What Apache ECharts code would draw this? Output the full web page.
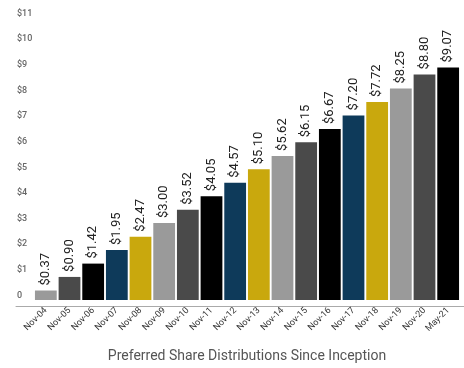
<!DOCTYPE html>
<html>
<head>
<meta charset="utf-8">
<script src="https://cdn.jsdelivr.net/npm/echarts@6/dist/echarts.min.js"></script>
<style>
  html, body { margin: 0; padding: 0; background: #fff; }
  #chart { width: 464px; height: 368px; }
</style>
</head>
<body>
<div id="chart"></div>
<script>
// periods and cumulative distributions per share
var periods = ['Nov-04', 'Nov-05', 'Nov-06', 'Nov-07', 'Nov-08', 'Nov-09', 'Nov-10', 'Nov-11', 'Nov-12',
  'Nov-13', 'Nov-14', 'Nov-15', 'Nov-16', 'Nov-17', 'Nov-18', 'Nov-19', 'Nov-20', 'May-21'];
var distributions = [0.37, 0.90, 1.42, 1.95, 2.47, 3.00, 3.52, 4.05, 4.57,
  5.10, 5.62, 6.15, 6.67, 7.20, 7.72, 8.25, 8.80, 9.07];
var palette = ['#9a9a9a', '#4a4a4a', '#000000', '#0e3a5a', '#c9a80d'];

var chart = echarts.init(document.getElementById('chart'), null, { renderer: 'canvas' });

var font = 'Roboto, "Noto Sans", sans-serif';

chart.setOption({
  animation: false,
  textStyle: { fontFamily: font },
  grid: [
    { left: 34, right: 4, top: 18, bottom: 62 },
    { left: 16, right: 0, top: 18, bottom: 62 }   // only for the long base line
  ],
  xAxis: [
    {
      type: 'category',
      data: periods,
      gridIndex: 0,
      axisLine: { show: false },
      axisTick: { show: false },
      axisLabel: {
        rotate: 45,
        interval: 0,
        fontSize: 9,
        color: '#333',
        margin: 9
      },
      name: 'Preferred Share Distributions Since Inception',
      nameLocation: 'middle',
      nameGap: 49,
      nameTextStyle: { fontSize: 14, color: '#555' }
    },
    {
      type: 'value',
      gridIndex: 1,
      min: 0, max: 1,
      axisLine: { show: true, lineStyle: { color: '#aaa', width: 1 } },
      axisTick: { show: false },
      axisLabel: { show: false },
      splitLine: { show: false }
    }
  ],
  yAxis: [
    {
      type: 'value',
      gridIndex: 0,
      min: 0,
      max: 11,
      interval: 1,
      axisLine: { show: false },
      axisTick: { show: false },
      splitLine: { show: false },
      axisLabel: {
        align: 'left',
        verticalAlign: 'bottom',
        margin: 17,
        fontSize: 9,
        fontWeight: 500,
        color: '#666',
        formatter: function (v) { return v === 0 ? '0' : '$' + v; }
      }
    },
    {
      type: 'value',
      gridIndex: 1,
      show: false
    }
  ],
  series: [{
    type: 'bar',
    xAxisIndex: 0,
    yAxisIndex: 0,
    barCategoryGap: '8%',
    data: distributions.map(function (v, i) {
      return { value: v, itemStyle: { color: palette[i % palette.length] } };
    }),
    label: {
      show: true,
      position: 'top',
      rotate: 90,
      align: 'left',
      verticalAlign: 'middle',
      distance: 5,
      fontSize: 13,
      color: '#222',
      formatter: function (p) { return '$' + p.value.toFixed(2); }
    }
  }]
});
</script>
</body>
</html>
